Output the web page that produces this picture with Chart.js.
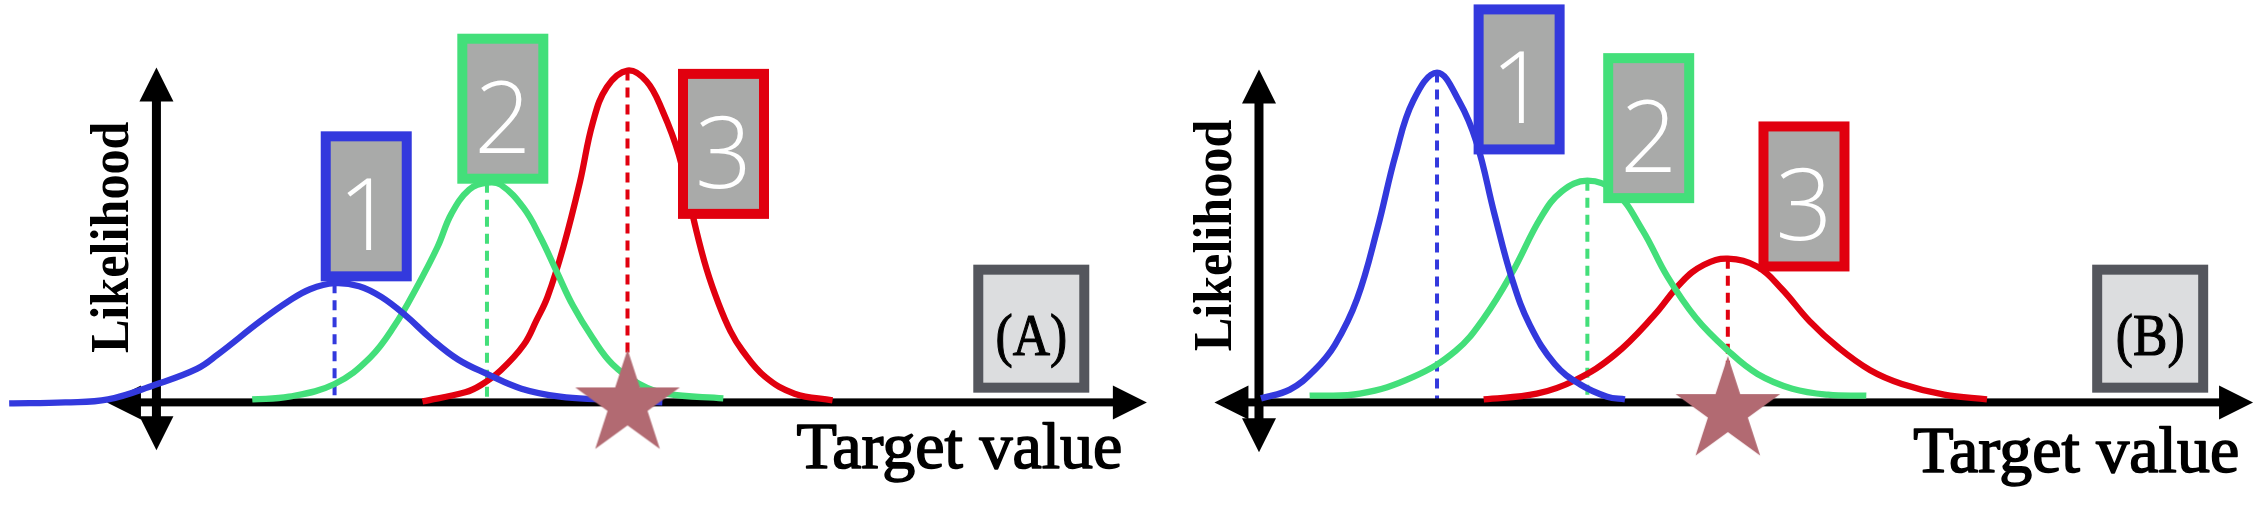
<!DOCTYPE html>
<html><head><meta charset="utf-8">
<script src="https://cdn.jsdelivr.net/npm/chart.js@4/dist/chart.umd.min.js"></script>
<style>
html,body{margin:0;padding:0;background:#fff;overflow:hidden}
#wrap{position:relative;width:2264px;height:506px;background:#fff}
canvas{position:absolute;top:0}
</style></head><body>
<div id="wrap">
<canvas id="cA" width="1160" height="506" style="left:0"></canvas>
<canvas id="cB" width="1104" height="506" style="left:1160px"></canvas>
</div>
<script>
// ---- data: [target value, likelihood] ----
const blueA  = [[-3.72,-0.003],[-2.3,0.0],[-1.22,0.009],[-0.05,0.052],[1.02,0.1],[1.55,0.143],[2.62,0.242],[3.35,0.303],[3.88,0.338],[4.5,0.356],[5.12,0.347],[5.68,0.315],[6.3,0.259],[6.92,0.192],[7.62,0.128],[8.35,0.085],[9.22,0.041],[10.2,0.017],[11.2,0.009],[12.78,0.0]];
const greenA = [[2.42,0.009],[3.35,0.017],[4.5,0.055],[5.4,0.134],[6.02,0.23],[6.55,0.338],[7.1,0.464],[7.45,0.563],[7.9,0.635],[8.35,0.656],[8.7,0.65],[9.28,0.58],[9.7,0.493],[10.12,0.388],[10.52,0.289],[11.02,0.192],[11.52,0.114],[12.2,0.055],[12.88,0.026],[14.32,0.012]];
const redA   = [[6.72,0.003],[7.8,0.03],[8.2,0.052],[8.7,0.096],[9.28,0.172],[9.6,0.245],[9.88,0.315],[10.28,0.464],[10.7,0.659],[11.02,0.834],[11.38,0.942],[11.9,0.991],[12.38,0.959],[12.78,0.872],[13.2,0.738],[13.62,0.522],[13.9,0.397],[14.2,0.295],[14.5,0.213],[14.8,0.155],[15.38,0.076],[16.12,0.026],[17.08,0.006]];
const blueB  = [[0.05,0.012],[0.78,0.038],[1.4,0.096],[1.92,0.172],[2.48,0.309],[3.0,0.522],[3.45,0.738],[3.9,0.901],[4.5,0.985],[5.05,0.901],[5.5,0.776],[5.95,0.563],[6.4,0.367],[6.85,0.23],[7.48,0.114],[8.1,0.055],[8.8,0.017],[9.25,0.009]];
const greenB = [[1.28,0.02],[2.55,0.026],[3.9,0.076],[4.98,0.155],[5.68,0.251],[6.4,0.388],[7.12,0.551],[7.65,0.63],[8.3,0.662],[9.0,0.63],[9.7,0.513],[10.32,0.376],[11.05,0.251],[11.85,0.155],[12.6,0.085],[13.48,0.041],[14.38,0.023],[15.35,0.02]];
const redB   = [[5.68,0.009],[7.02,0.026],[8.0,0.067],[9.0,0.143],[9.98,0.259],[10.68,0.359],[11.25,0.411],[11.85,0.429],[12.6,0.405],[13.22,0.338],[13.92,0.242],[14.65,0.163],[15.45,0.096],[16.25,0.055],[17.32,0.023],[18.4,0.009]];
const targetA = [11.9, -0.006];
const targetB = [11.85, -0.026];
const modelLabels = ['1','2','3'];
const panelLabels = ['(A)','(B)'];
const axisTitleX = 'Target value';
const axisTitleY = 'Likelihood';

// ---- styles ----
const curveColors = ['#3339dd','#43df7a','#e1000f'];
const STAR_COLOR = '#b26a72';
const BOX_FILL = '#a9aaa9';

function makeStar(R){
  const c = document.createElement('canvas');
  const s = Math.ceil(2*R+4); c.width = s; c.height = s;
  const g = c.getContext('2d');
  const cx = s/2, cy = s/2, r = R*0.382;
  g.beginPath();
  for(let i=0;i<10;i++){
    const rad = (i%2===0)?R:r;
    const a = -Math.PI/2 + i*Math.PI/5;
    const px = cx + rad*Math.cos(a), py = cy + rad*Math.sin(a);
    i===0?g.moveTo(px,py):g.lineTo(px,py);
  }
  g.closePath(); g.fillStyle = STAR_COLOR; g.fill();
  return c;
}
const starImg = makeStar(55);

function heavyText(ctx, txt, x, y, extra){
  ctx.fillText(txt, x, y);
  ctx.lineWidth = extra; ctx.strokeStyle = ctx.fillStyle; ctx.lineJoin = 'round';
  ctx.strokeText(txt, x, y);
}

const diagram = {
  id:'diagram',
  beforeDatasetsDraw(chart, args, o){
    const ctx = chart.ctx, X = chart.scales.x, Y = chart.scales.y;
    const px = v=>X.getPixelForValue(v), py = v=>Y.getPixelForValue(v);
    // dashed lines at the peak of each curve
    chart.data.datasets.forEach((ds,i)=>{
      if(!ds.isCurve) return;
      const pk = ds.data.reduce((a,b)=>b.y>a.y?b:a);
      ctx.save();
      ctx.strokeStyle = ds.borderColor; ctx.lineWidth = 4; ctx.setLineDash([10,7]);
      ctx.beginPath(); ctx.moveTo(px(pk.x), py(pk.y)); ctx.lineTo(px(pk.x), py(0)); ctx.stroke();
      ctx.restore();
    });
    // axes with arrow heads
    const a = o.axis, AH = 34, HW = 17;
    const ox = px(0), oy = py(0);
    const L = px(a.left), R = px(a.right), T = py(a.top), B = py(a.bottom);
    ctx.save(); ctx.fillStyle = '#000';
    ctx.fillRect(L+AH-1, oy-4, (R-AH)-(L+AH)+2, 8);
    ctx.fillRect(ox-4.5, T+AH-1, 9, (B-AH)-(T+AH)+2);
    const tri=(x1,y1,x2,y2,x3,y3)=>{ctx.beginPath();ctx.moveTo(x1,y1);ctx.lineTo(x2,y2);ctx.lineTo(x3,y3);ctx.closePath();ctx.fill();};
    tri(R,oy, R-AH,oy-HW, R-AH,oy+HW);
    tri(L,oy, L+AH,oy-HW, L+AH,oy+HW);
    tri(ox,T, ox-HW,T+AH, ox+HW,T+AH);
    tri(ox,B, ox-HW,B-AH, ox+HW,B-AH);
    ctx.restore();
  },
  afterDatasetsDraw(chart, args, o){
    const ctx = chart.ctx, X = chart.scales.x, Y = chart.scales.y;
    const px = v=>X.getPixelForValue(v), py = v=>Y.getPixelForValue(v);
    // numbered boxes
    o.boxes.forEach((b,i)=>{
      const w = 91, h = 150, bw = 10;
      const cx = px(b.cx), bot = py(b.bottom);
      ctx.fillStyle = curveColors[i];
      ctx.fillRect(cx-w/2, bot-h, w, h);
      ctx.fillStyle = BOX_FILL;
      ctx.fillRect(cx-w/2+bw, bot-h+bw, w-2*bw, h-2*bw);
      ctx.fillStyle = '#fff';
      ctx.font = '300 100px "Open Sans"';
      ctx.textAlign = 'center'; ctx.textBaseline = 'alphabetic';
      ctx.fillText(modelLabels[i], cx, bot-31);
    });
    // panel label box
    const p = o.panel;
    {
      const w = 116, h = 128, bw = 10;
      const cx = px(p.cx), bot = py(p.bottom);
      ctx.fillStyle = '#54565d'; ctx.fillRect(cx-w/2, bot-h, w, h);
      ctx.fillStyle = '#dcdddf'; ctx.fillRect(cx-w/2+bw, bot-h+bw, w-2*bw, h-2*bw);
      ctx.save();
      ctx.translate(cx, bot-h+90); ctx.scale(0.86,1);
      ctx.fillStyle = '#000'; ctx.font = '60px "Liberation Serif"';
      ctx.textAlign = 'center'; ctx.textBaseline = 'alphabetic';
      heavyText(ctx, panelLabels[p.index], 0, 0, 1.2);
      ctx.restore();
    }
    // axis titles
    ctx.save();
    ctx.fillStyle = '#000';
    ctx.font = '66px "Liberation Serif"';
    ctx.textAlign = 'right'; ctx.textBaseline = 'alphabetic';
    heavyText(ctx, axisTitleX, px(o.xTitle.right), py(o.xTitle.baseline), 1.6);
    ctx.restore();
    ctx.save();
    ctx.translate(px(o.yTitle.baseline), py(o.yTitle.center));
    ctx.rotate(-Math.PI/2); ctx.scale(0.93,1);
    ctx.fillStyle = '#000';
    ctx.font = 'bold 54px "Liberation Serif"';
    ctx.textAlign = 'center'; ctx.textBaseline = 'alphabetic';
    ctx.fillText(axisTitleY, 0, 0);
    ctx.restore();
  }
};

function curve(pts, i){
  return {data: pts.map(([x,y])=>({x,y})), borderColor: curveColors[i], borderWidth: 6.3,
    pointRadius: 0, fill: false, tension: 0.4, order: 2, isCurve: true};
}
function makeChart(id, curves, target, cfg){
  const ds = curves.map((c,i)=>curve(c,i));
  ds.push({data:[{x:target[0], y:target[1]}], showLine:false, pointStyle: starImg, pointRadius: 5, order: 0});
  return new Chart(document.getElementById(id), {
    type:'line',
    data:{datasets: ds},
    options:{
      responsive:false, animation:false, events:[],
      layout:{padding:0},
      plugins:{legend:{display:false}, tooltip:{enabled:false}, diagram: cfg.diagram},
      scales:{
        x:{type:'linear', min: cfg.xmin, max: cfg.xmax, display:false},
        y:{type:'linear', min: -0.2915, max: 1.1837, display:false}
      }
    },
    plugins:[diagram]
  });
}

makeChart('cA', [blueA, greenA, redA], targetA, {
  xmin: -3.8, xmax: 25.2,
  diagram:{
    axis:{left:-1.25, right:25.02, top:1.0, bottom:-0.143},
    boxes:[{cx:5.3,bottom:0.3615},{cx:8.75,bottom:0.653},{cx:14.325,bottom:0.548}],
    panel:{cx:22.1, bottom:0.029, index:0},
    xTitle:{right:24.4, baseline:-0.195},
    yTitle:{baseline:-0.725, center:0.493}
  }
});
makeChart('cB', [blueB, greenB, redB], targetB, {
  xmin: -2.35, xmax: 25.25,
  diagram:{
    axis:{left:-1.125, right:25.125, top:0.994, bottom:-0.149},
    boxes:[{cx:6.575,bottom:0.7405},{cx:9.85,bottom:0.595},{cx:13.775,bottom:0.391}],
    panel:{cx:22.525, bottom:0.029, index:1},
    xTitle:{right:24.775, baseline:-0.207},
    yTitle:{baseline:-0.7, center:0.4985}
  }
});
</script>
</body></html>
